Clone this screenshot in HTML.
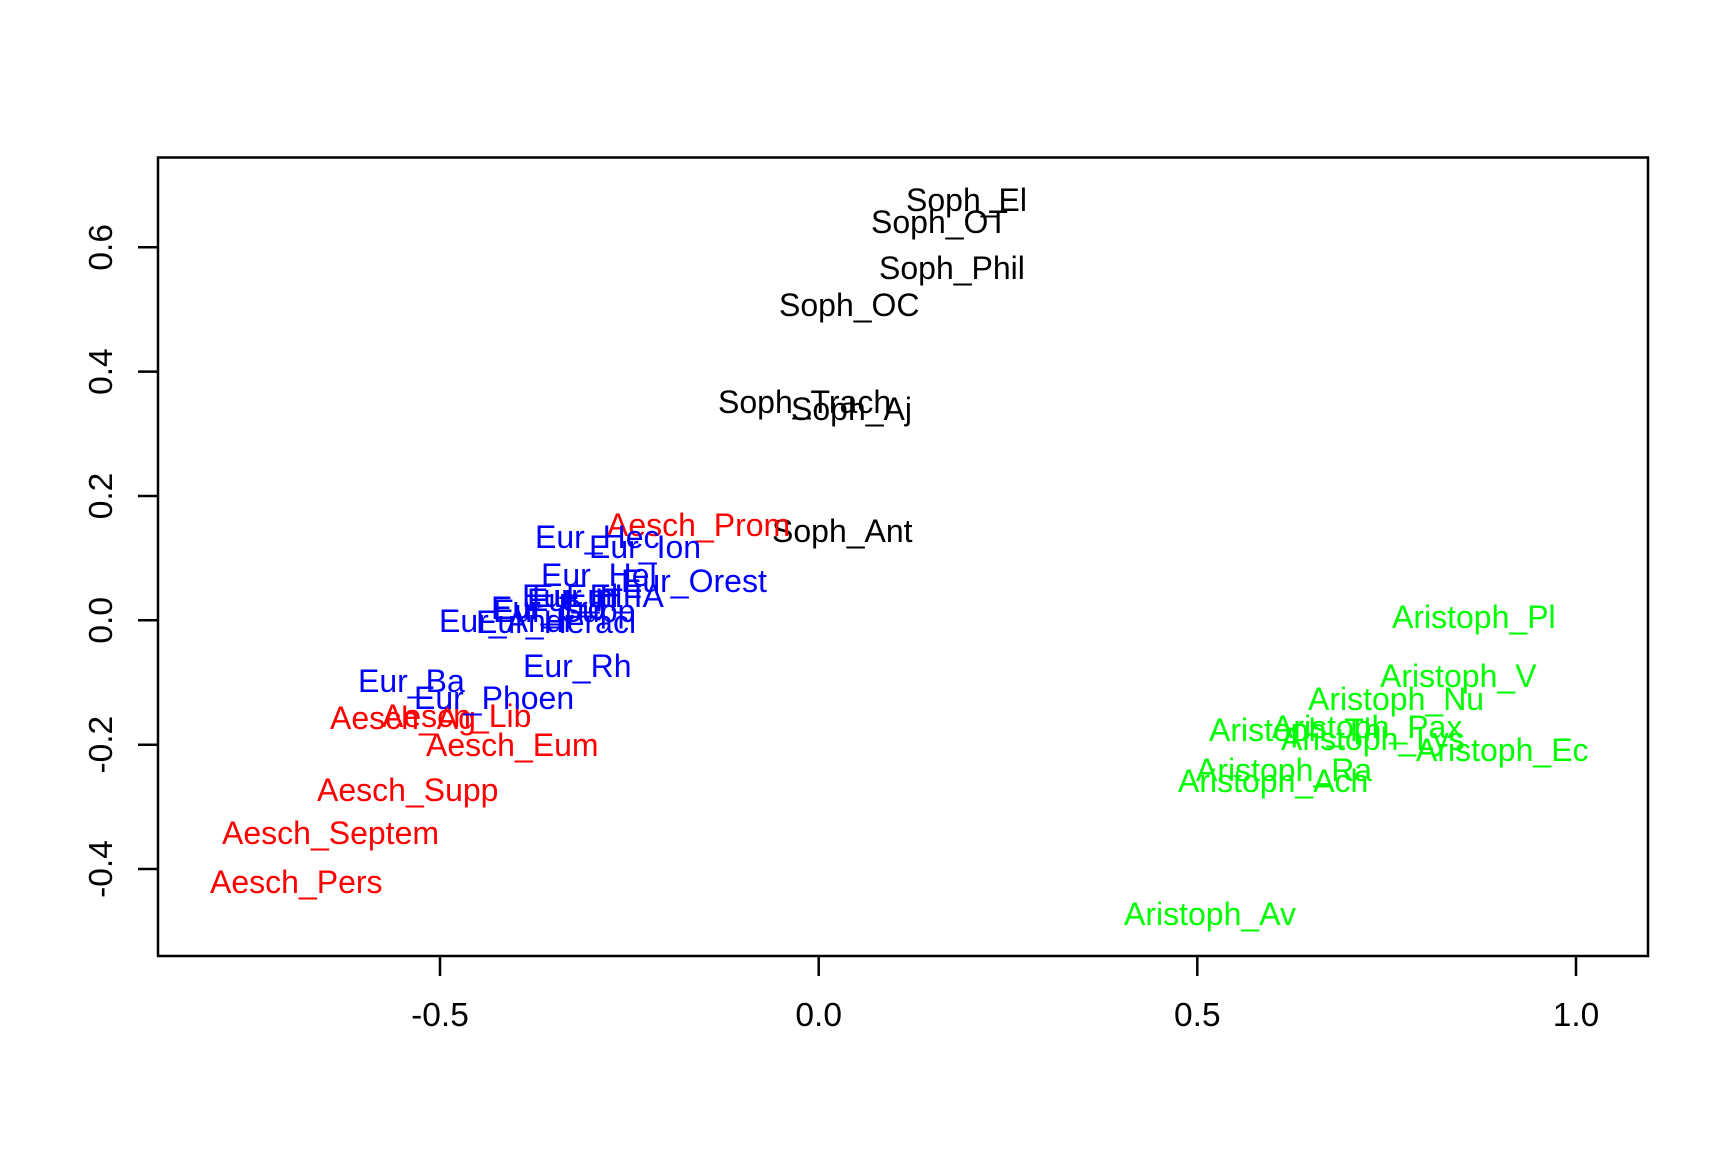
<!DOCTYPE html>
<html><head><style>html,body{margin:0;padding:0;background:#fff}svg{display:block}</style></head>
<body>
<svg width="1728" height="1152" xmlns="http://www.w3.org/2000/svg" font-family="Liberation Sans, Arial, sans-serif" font-size="32">
<rect width="1728" height="1152" fill="#fff"/>
<rect x="158" y="157.5" width="1490" height="798.5" fill="none" stroke="#000" stroke-width="2.5"/>
<g stroke="#000" stroke-width="2.5">
<line x1="440" y1="956" x2="440" y2="976"/><line x1="818.7" y1="956" x2="818.7" y2="976"/>
<line x1="1197.3" y1="956" x2="1197.3" y2="976"/><line x1="1576" y1="956" x2="1576" y2="976"/>
<line x1="138" y1="247.3" x2="158" y2="247.3"/><line x1="138" y1="371.6" x2="158" y2="371.6"/>
<line x1="138" y1="496" x2="158" y2="496"/><line x1="138" y1="620.3" x2="158" y2="620.3"/>
<line x1="138" y1="744.7" x2="158" y2="744.7"/><line x1="138" y1="869" x2="158" y2="869"/>
</g>
<g text-anchor="middle" fill="#000" font-size="33.5">
<text x="440" y="1026">-0.5</text><text x="818.7" y="1026">0.0</text>
<text x="1197.3" y="1026">0.5</text><text x="1576" y="1026">1.0</text>
<text transform="translate(112,247.3) rotate(-90)">0.6</text>
<text transform="translate(112,371.6) rotate(-90)">0.4</text>
<text transform="translate(112,496) rotate(-90)">0.2</text>
<text transform="translate(112,620.3) rotate(-90)">0.0</text>
<text transform="translate(112,744.7) rotate(-90)">-0.2</text>
<text transform="translate(112,869) rotate(-90)">-0.4</text>
</g>
<g transform="translate(0,-1)">
<g fill="#000">
<text x="906" y="212">Soph_El</text>
<text x="871" y="234">Soph_OT</text>
<text x="879" y="280">Soph_Phil</text>
<text x="779" y="317">Soph_OC</text>
<text x="718" y="414">Soph_Trach</text>
<text x="791" y="421">Soph_Aj</text>
<text x="772" y="543">Soph_Ant</text>
</g>
<g fill="#f00">
<text x="607" y="537">Aesch_Prom</text>
<text x="330" y="730">Aesch_Ag</text>
<text x="382" y="728">Aesch_Lib</text>
<text x="426" y="757">Aesch_Eum</text>
<text x="317" y="802">Aesch_Supp</text>
<text x="222" y="845">Aesch_Septem</text>
<text x="210" y="894">Aesch_Pers</text>
</g>
<g fill="#00f">
<text x="535" y="549">Eur_Hec</text>
<text x="589" y="559">Eur_Ion</text>
<text x="541" y="587">Eur_Hel</text>
<text x="621" y="593">Eur_Orest</text>
<text x="566" y="608">Eur_IA</text>
<text x="522" y="608">Eur_El</text>
<text x="532" y="608">Eur_HF</text>
<text x="527" y="612">Eur_IT</text>
<text x="493" y="623">Eur_Supp</text>
<text x="491" y="620">Eur_Tro</text>
<text x="476" y="634">Eur_Heracl</text>
<text x="439" y="633">Eur_Andr</text>
<text x="523" y="678">Eur_Rh</text>
<text x="358" y="693">Eur_Ba</text>
<text x="414" y="710">Eur_Phoen</text>
</g>
<g fill="#0f0">
<text x="1392" y="629">Aristoph_Pl</text>
<text x="1380" y="688">Aristoph_V</text>
<text x="1308" y="711">Aristoph_Nu</text>
<text x="1209" y="742">Aristoph_Th</text>
<text x="1272" y="739">Aristoph_Pax</text>
<text x="1281" y="751">Aristoph_Lys</text>
<text x="1416" y="762">Aristoph_Ec</text>
<text x="1196" y="782">Aristoph_Ra</text>
<text x="1178" y="793">Aristoph_Ach</text>
<text x="1124" y="926">Aristoph_Av</text>
</g>
</g>
</svg>
</body></html>
